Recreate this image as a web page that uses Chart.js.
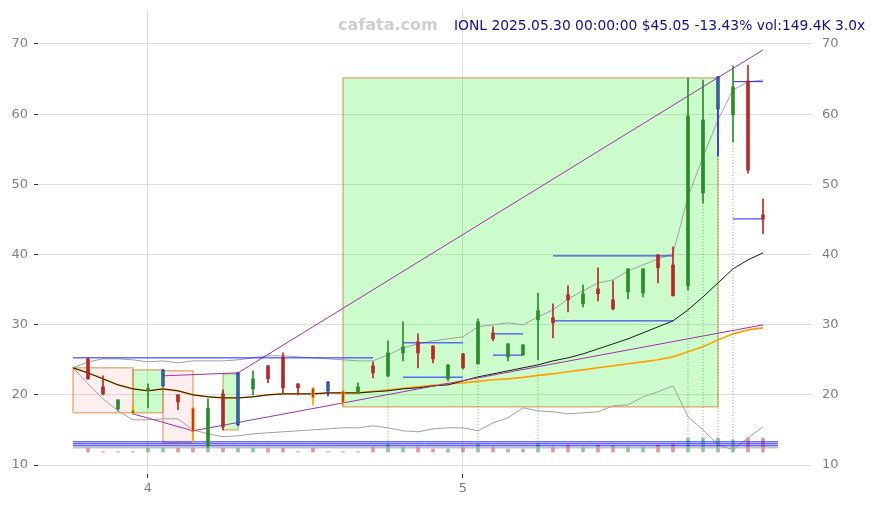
<!DOCTYPE html>
<html><head><meta charset="utf-8">
<script src="https://cdn.jsdelivr.net/npm/chart.js@4.4.1/dist/chart.umd.min.js"></script>
<style>html,body{margin:0;padding:0;background:#fff;}canvas{display:block;}</style>
</head><body>
<canvas id="c" width="873" height="505"></canvas>
<script>
// ---------- data ----------
const dates = ['2025-03-26','2025-03-27','2025-03-28','2025-03-31',
 '2025-04-01','2025-04-02','2025-04-03','2025-04-04','2025-04-07','2025-04-08','2025-04-09','2025-04-10','2025-04-11',
 '2025-04-14','2025-04-15','2025-04-16','2025-04-17','2025-04-21','2025-04-22','2025-04-23','2025-04-24','2025-04-25',
 '2025-04-28','2025-04-29','2025-04-30','2025-05-01','2025-05-02','2025-05-05','2025-05-06','2025-05-07','2025-05-08',
 '2025-05-09','2025-05-12','2025-05-13','2025-05-14','2025-05-15','2025-05-16','2025-05-19','2025-05-20','2025-05-21',
 '2025-05-22','2025-05-23','2025-05-27','2025-05-28','2025-05-29','2025-05-30'];
const open  = [25.13,21.14,18.01,17.29,20.6,21.28,20.0,18.15,12.7,20.14,15.73,20.85,24.13,25.41,21.57,21.0,20.57,20.57,20.28,24.13,
 22.7,25.98,27.55,26.98,22.28,25.84,24.42,28.83,25.41,25.7,30.7,30.97,34.25,32.96,35.1,33.53,34.67,34.53,39.94,38.5,
 35.53,48.78,60.74,59.89,64.73,45.64];
const high  = [25.3,22.7,19.3,18.57,21.57,23.6,20.0,18.2,19.43,20.71,23.2,23.42,24.2,25.98,21.6,21.0,21.9,20.6,21.7,24.7,
 27.7,30.4,28.7,27.0,24.3,25.9,30.83,29.7,27.3,27.15,34.5,32.96,35.53,35.67,38.1,36.24,38.0,38.0,40.0,41.1,
 65.16,64.87,65.4,66.87,67.0,47.9];
const low   = [22.2,20.0,17.72,17.29,18.15,21.2,17.9,13.2,12.5,15.0,15.6,20.0,21.7,20.28,20.0,18.57,19.86,18.3,20.28,22.42,
 22.6,24.85,23.85,24.56,22.0,23.7,24.4,27.7,24.85,25.6,25.0,28.1,31.82,32.53,33.4,32.1,33.67,33.96,35.96,34.1,
 34.96,47.35,54.05,56.04,51.6,42.93];
const close = [22.28,20.14,19.29,17.86,20.9,23.56,19.0,14.73,18.1,15.44,23.13,22.28,22.28,21.0,21.0,19.57,21.85,18.86,21.14,23.13,
 25.97,26.84,25.98,25.13,24.27,23.85,30.4,27.98,27.27,27.12,31.97,30.26,33.53,34.4,34.4,32.25,37.95,37.95,38.1,34.1,
 59.74,59.17,65.3,63.87,52.04,45.05];
const volumeK = [43,5,5,5,43,43,43,43,50,43,43,43,43,43,5,43,5,5,5,54,
 86,54,54,32,32,54,86,54,32,32,96,54,75,54,75,64,54,54,75,86,
 150,150,150,128,150,149.4];
// candle flags: 'o' = orange marked, 'b' = blue marked
const marks = ['','','','o','','b','','o','','','b','','','','','o','b','o','','',
 '','','','','','','','','','','','','','','','','','','','',
 '','','b','','',''];
// overlay series, first value one session before the first candle
const seriesStart = -1;
const maMid = [23.85,23.13,22.28,21.42,20.85,20.57,20.85,20.57,20.0,19.72,19.57,19.57,19.72,20.0,20.14,20.14,20.14,20.28,20.28,20.28,
 20.43,20.57,20.85,21.0,21.28,21.42,21.99,22.56,22.99,23.42,23.85,24.27,24.84,25.27,25.84,26.55,27.26,27.98,28.83,29.69,
 30.54,32.11,33.96,35.95,37.95,39.23,40.23];
const maSlow = [23.85,23.13,22.28,21.42,20.85,20.57,20.85,20.57,20.0,19.72,19.57,19.57,19.72,20.0,20.14,20.14,20.14,20.28,20.28,20.28,
 20.50,20.71,20.93,21.14,21.35,21.57,21.71,21.92,22.14,22.28,22.49,22.78,22.99,23.28,23.56,23.85,24.13,24.42,24.70,24.99,
 25.41,26.13,26.84,27.83,28.69,29.26,29.54];
const bandUpper = [23.85,24.70,25.13,25.13,24.99,24.70,24.84,24.56,24.84,24.84,24.84,24.99,25.27,25.56,25.56,25.41,25.27,25.13,24.99,24.84,
 24.84,25.70,26.70,27.26,27.69,27.98,28.26,29.69,29.97,30.26,29.97,31.11,32.11,33.68,34.81,35.95,36.38,37.66,38.52,39.37,
 40.09,48.21,53.90,59.17,63.45,64.59,64.87];
const bandLower = [23.85,21.57,19.43,17.72,16.44,16.44,16.58,16.58,15.01,14.44,14.02,14.16,14.44,14.59,14.73,14.87,15.01,15.16,15.30,15.30,
 15.58,15.30,14.87,14.73,15.16,15.30,15.30,14.87,16.01,16.72,18.15,17.72,17.58,17.29,17.44,17.58,18.43,18.58,19.72,20.43,
 21.28,16.87,15.01,12.88,12.17,13.87,15.44];
const trendUpper = [[5,22.71],[10,23.13],[45,69.15]];
const trendLower = [[3,17.29],[7,14.87],[45,29.97]];
const levelFrom  = [-1,-1,-1,-1,21,21,27,27,31,31,43,43];
const levelTo    = [19,46,46,46,25,25,29,29,39,39,45,45];
const levelValue = [25.27,13.30,13.02,12.74,27.41,22.52,28.69,25.66,39.80,30.54,64.63,45.07];
const baseLine = [[-1,12.45],[46,12.45]];
const boxFrom   = [-1,3,5,9,17];
const boxTo     = [3,5,7,10,42];
const boxTop    = [23.85,23.56,23.42,22.99,65.16];
const boxBottom = [17.44,17.44,13.16,15.01,18.29];
const boxKind   = ['down','up','down','up','up'];
const volumeSpikes = [20,26,30,40,41,42,43];
const spikeFloor = 13.0;
const priceTicks = [10,20,30,40,50,60,70];
const watermark = 'cafata.com';
const headline = 'IONL 2025.05.30 00:00:00 $45.05 -13.43% vol:149.4K 3.0x';

// ---------- derived ----------
const idx = dates.map((d,i)=>i);
const monthTicks = idx.filter(i => i>0 && dates[i].slice(5,7)!==dates[i-1].slice(5,7));
const monthLabel = i => String(parseInt(dates[i].slice(5,7),10));
const UP='#2a8c2a', DOWN='#b82828', ORANGE='#ffa000', BLUE='#2222ff';
const isUp = i => close[i] >= open[i];
const fillCol = idx.map(i => isUp(i) ? UP : DOWN);
const edgeCol = idx.map(i => marks[i]==='o' ? ORANGE : marks[i]==='b' ? BLUE : fillCol[i]);
const edgeW = idx.map(i => marks[i] ? 1 : 0);
const volCol = idx.map(i => isUp(i) ? 'rgba(40,150,40,0.5)' : 'rgba(200,50,50,0.5)');
const series = arr => arr.map((v,k)=>({x:seriesStart+k, y:v}));
const pts = arr => arr.map(p=>({x:p[0], y:p[1]}));
const spikePts = [];
volumeSpikes.forEach(i=>{ spikePts.push({x:i,y:low[i]},{x:i,y:spikeFloor},{x:i,y:null}); });

const line = (data, color, width, order, extra={}) => Object.assign({
  type:'line', data, borderColor:color, borderWidth:width, pointRadius:0, tension:0,
  fill:false, order, yAxisID:'y', spanGaps:false }, extra);

const levelSets = levelValue.map((v,k)=>line([{x:levelFrom[k],y:v},{x:levelTo[k],y:v}], BLUE, 1, 4));

const overlay = {
  id:'overlay',
  beforeDatasetsDraw(chart){
    const {ctx, scales:{x,y}} = chart;
    ctx.save();
    boxFrom.forEach((f,k)=>{
      const x1=x.getPixelForValue(f), x2=x.getPixelForValue(boxTo[k]);
      const y1=y.getPixelForValue(boxTop[k]), y2=y.getPixelForValue(boxBottom[k]);
      ctx.fillStyle = boxKind[k]==='up' ? 'rgba(0,240,0,0.2)' : 'rgba(240,128,128,0.13)';
      ctx.fillRect(x1,y1,x2-x1,y2-y1);
      ctx.strokeStyle='rgba(215,130,60,0.75)'; ctx.lineWidth=1.2;
      ctx.strokeRect(x1,y1,x2-x1,y2-y1);
    });
    ctx.restore();
  },
  afterDraw(chart){
    const ctx=chart.ctx; ctx.save();
    ctx.textBaseline='middle'; ctx.textAlign='left';
    ctx.font='bold 16px "DejaVu Sans"'; ctx.fillStyle='#cfcfcf'; ctx.fillText(watermark, 338, 26);
    ctx.font='13.85px "DejaVu Sans"'; ctx.fillStyle='#12128c'; ctx.fillText(headline, 454, 26);
    ctx.restore();
  }
};

Chart.defaults.font.family = '"DejaVu Sans", sans-serif';
const tickFont = {size:13};
const fitY = w => s => { s.width = w; s.paddingTop = 0; s.paddingBottom = 0; };
new Chart(document.getElementById('c'), {
  type:'bar',
  data:{ datasets:[
    {type:'bar', data: idx.map(i=>({x:i, y:[open[i], close[i]]})), backgroundColor: fillCol, borderColor: edgeCol,
      borderWidth: edgeW, borderSkipped:false, barThickness:3, grouped:false, order:0, yAxisID:'y'},
    {type:'bar', data: idx.map(i=>({x:i, y:[low[i], high[i]]})), backgroundColor: edgeCol, borderWidth:0,
      barThickness:1, grouped:false, order:1, yAxisID:'y'},
    line(spikePts, 'rgba(60,160,60,0.75)', 1, 3, {borderDash:[1,2]}),
    ...levelSets,
    line(pts(trendUpper), 'rgb(160,50,170)', 1, 4),
    line(pts(trendLower), 'rgb(160,50,170)', 1, 4),
    line(series(maMid), '#1a1a1a', 1, 5),
    line(series(maSlow), ORANGE, 1.6, 6),
    line(series(bandUpper), '#a0a0a0', 1, 7),
    line(series(bandLower), '#a0a0a0', 1, 7),
    line(pts(baseLine), '#a8a8a8', 1, 7),
    {type:'bar', data: idx.map(i=>({x:i, y:volumeK[i]})), backgroundColor: volCol, borderWidth:0,
      barThickness:3, grouped:false, order:8, yAxisID:'yv'}
  ]},
  options:{
    responsive:false, animation:false, devicePixelRatio:1,
    layout:{padding:{top:10,left:0,right:0,bottom:0}},
    plugins:{legend:{display:false}, tooltip:{enabled:false}},
    scales:{
      x:{ type:'linear', min:-3.333, max:48.267, offset:false,
        afterBuildTicks: s => { s.ticks = monthTicks.map(v=>({value:v})); },
        afterFit: s => { s.height = 31; s.paddingLeft = 0; s.paddingRight = 0; },
        ticks:{ callback: v => monthLabel(v), color:'#808080', font:tickFont, padding:3, autoSkip:false, maxRotation:0 },
        grid:{ color:'#dedede', tickColor:'#333', tickLength:4, offset:false }, border:{display:false} },
      y:{ type:'linear', position:'left', min:8.72, max:74.84,
        afterBuildTicks: s => { s.ticks = priceTicks.map(v=>({value:v})); },
        afterFit: fitY(38),
        ticks:{ color:'#808080', font:tickFont, padding:6 },
        grid:{ color:'#dedede', tickColor:'#333', tickLength:4 }, border:{display:false} },
      y2:{ type:'linear', position:'right', min:8.72, max:74.84,
        afterBuildTicks: s => { s.ticks = priceTicks.map(v=>({value:v})); },
        afterFit: fitY(61),
        ticks:{ color:'#808080', font:tickFont, padding:10 },
        grid:{ display:false, drawTicks:false }, border:{display:false} },
      yv:{ type:'linear', display:false, min:-235, max:4730 }
    }
  },
  plugins:[overlay]
});
</script>
</body></html>
